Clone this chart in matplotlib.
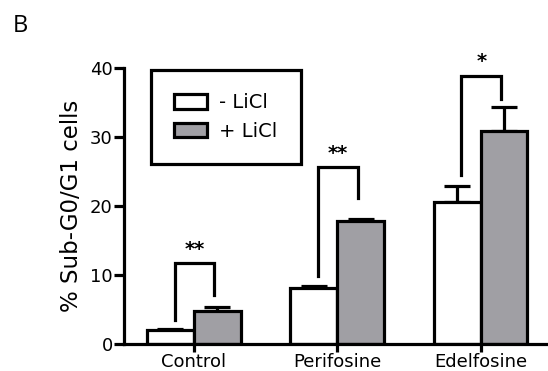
import matplotlib
matplotlib.use('Agg')
import matplotlib.pyplot as plt
from matplotlib.patches import Patch
import numpy as np

plt.rcParams['font.family'] = ['DejaVu Sans']

groups = ['Control', 'Perifosine', 'Edelfosine']
minus_licl = [2.0, 8.1, 20.6]
minus_err = [0.15, 0.35, 2.3]
plus_licl = [4.8, 17.8, 30.8]
plus_err = [0.5, 0.35, 3.5]
# significance brackets: (left bottom, top, right bottom, label)
brackets = [(3.5, 11.7, 7.1, '**'), (9.8, 25.6, 21.2, '**'), (24.5, 38.9, 35.5, '*')]

grey = '#a09fa4'
lw = 2.3
w = 0.327

fig = plt.figure(figsize=(5.48, 3.71), dpi=100)
ax = fig.add_axes([0.226, 0.0728, 0.774, 0.744])

x = np.arange(len(groups))
ax.bar(x - w/2, minus_licl, w, color='white', edgecolor='black', linewidth=lw, zorder=2)
ax.bar(x + w/2, plus_licl, w, color=grey, edgecolor='black', linewidth=lw, zorder=2)
ax.errorbar(x - w/2, minus_licl, yerr=[np.zeros(3), minus_err], fmt='none',
            ecolor='black', elinewidth=lw, capsize=9.5, capthick=lw, zorder=1)
ax.errorbar(x + w/2, plus_licl, yerr=[np.zeros(3), plus_err], fmt='none',
            ecolor='black', elinewidth=lw, capsize=9.5, capthick=lw, zorder=1)

for i, (lb, top, rb, lab) in enumerate(brackets):
    xl = i - w/2 + 0.03
    xr = i + w/2 - 0.02
    ax.plot([xl, xl, xr, xr], [lb, top, top, rb], color='black', lw=lw,
            solid_joinstyle='miter', clip_on=False)
    ax.text((xl + xr)/2, top + 0.6, lab, ha='center', va='bottom', fontsize=14,
            fontweight='bold', clip_on=False)

ax.set_xlim(-0.488, 2.47)
ax.set_ylim(0, 40)
ax.set_yticks([0, 10, 20, 30, 40])
ax.set_xticks(x)
ax.set_xticklabels(groups)
ax.tick_params(axis='both', labelsize=13, width=lw, color='black')
ax.tick_params(axis='y', length=7, pad=1)
ax.tick_params(axis='x', length=5.5, pad=1)
for s in ['top', 'right']:
    ax.spines[s].set_visible(False)
for s in ['left', 'bottom']:
    ax.spines[s].set_linewidth(lw)
ax.set_ylabel('% Sub-G0/G1 cells', fontsize=16.5, labelpad=5)

handles = [Patch(facecolor='white', edgecolor='black', linewidth=lw, label='- LiCl'),
           Patch(facecolor=grey, edgecolor='black', linewidth=lw, label='+ LiCl')]
leg = ax.legend(handles=handles, loc='upper left', bbox_to_anchor=(0.064, 0.993),
                fontsize=14, frameon=True, fancybox=False, framealpha=1, borderpad=1.2,
                handlelength=1.7, handleheight=0.75, handletextpad=0.6,
                labelspacing=0.5, borderaxespad=0)
leg.get_frame().set_edgecolor('black')
leg.get_frame().set_linewidth(lw)

fig.text(0.024, 0.914, 'B', fontsize=17, family='Open Sans')

fig.savefig('out.png', dpi=100)
